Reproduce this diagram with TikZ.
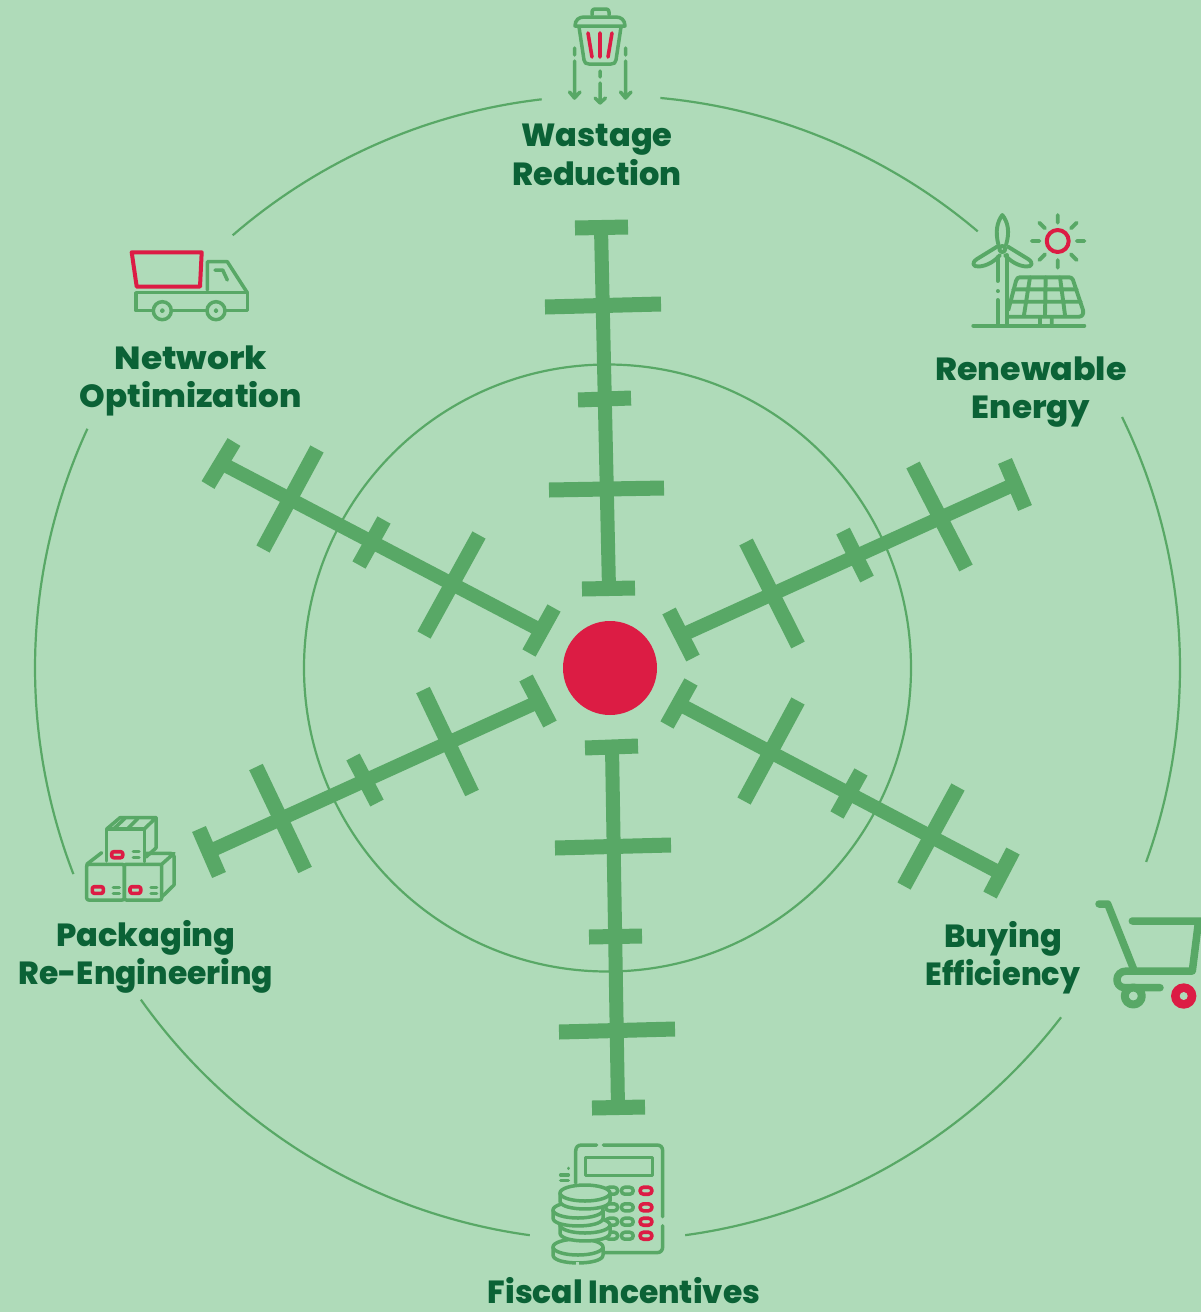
\documentclass[tikz,border=0pt]{standalone}
\usepackage{fontspec}
\setmainfont{Poppins}[BoldFont={Poppins ExtraBold}]
\definecolor{bgc}{RGB}{175,219,185}
\definecolor{gr}{RGB}{88,168,102}
\definecolor{dk}{RGB}{11,98,54}
\definecolor{rd}{RGB}{220,28,68}
\tikzset{
 spoke/.style={gr,line width=14pt},
 cross/.style={gr,line width=15pt},
 ring/.style={gr,line width=2.2pt},
 ico/.style={gr,line width=3.5pt,line cap=round,line join=round},
 icob/.style={gr,line width=3.9pt,line cap=round,line join=round},
 icor/.style={rd,line width=3.6pt,line cap=round,line join=round},
 lab/.style={text=dk,align=center,inner sep=0pt,font=\fontsize{32}{38.5}\selectfont\bfseries},
}
\newcommand\coin[2]{\begin{scope}[shift={(#1,#2)}]
 \draw[ico,fill=bgc] (-25,0) -- (-25,8) .. controls (-25,18.6) and (25,18.6) .. (25,8) -- (25,0);
 \draw[ico,fill=bgc] (0,0) ellipse [x radius=25pt,y radius=8pt];
\end{scope}}
\newcommand\btn[3]{\draw[#3,rounded corners=3.5pt] (#1-6,#2-3.5) rectangle (#1+6,#2+3.5);}
\begin{document}
\begin{tikzpicture}[x=1pt,y=-1pt]
\fill[bgc] (0,0) rectangle (1201,1312);
\useasboundingbox (0,0) rectangle (1201,1312);
% rings
\draw[ring] (607.5,668) circle [radius=303.5pt];
\foreach \a/\b in {84.7/49.7,26/-19.8,-37.6/-82.2,262.2/215.4,201.1/155.3,130.9/96.6}
 \draw[ring] plot[domain=\a:\b,samples=70,smooth] ({607.5+572.5*cos(\x)},{668-572.5*sin(\x)});
% spokes
\draw[spoke] (601,228) -- (609,589);
\draw[cross] (575,228)--(628,227) (545,307)--(661,304) (578,400)--(631,398) (549,490)--(664,488) (582,589)--(635,588);
\draw[spoke] (612,747) -- (618,1108);
\draw[cross] (585,748)--(638,746) (555,848)--(671,845) (589,937)--(642,936) (559,1032)--(675,1029) (592,1108)--(645,1107);
\draw[spoke] (680,636) -- (1015,484);
\draw[cross] (669,611)--(693,658) (746,542)--(798,645) (843,531)--(867,579) (913,465)--(966,568) (1005,461)--(1025,508);
\draw[spoke] (679,704) -- (1002,874);
\draw[cross] (691,682)--(667,725) (798,701)--(744,801) (861,772)--(837,815) (958,787)--(904,886) (1013,851)--(990,895);
\draw[spoke] (540,701) -- (208,852);
\draw[cross] (526,678)--(550,724) (423,690)--(472,793) (353,757)--(377,803) (256,767)--(305,870) (199,829)--(219,875);
\draw[spoke] (542,631) -- (221,463);
\draw[cross] (554,608)--(529,653) (479,535)--(424,635) (384,520)--(359,565) (317,449)--(263,549) (234,442)--(208,485);
\fill[rd] (610,668) circle [radius=47pt];
% wastage icon
\draw[ico] (592,15) -- (592,12) .. controls (592,10) and (593,9) .. (595,9) -- (606,9) .. controls (608,9) and (609,10) .. (609,12) -- (609,15);
\draw[ico] (575,26) .. controls (575,20) and (579,17) .. (584,17) -- (616,17) .. controls (621,17) and (625,20) .. (625,26) -- cycle;
\draw[ico] (579,27) -- (584,60) .. controls (584.5,63) and (586,64) .. (589,64) -- (611,64) .. controls (614,64) and (615.5,63) .. (616,60) -- (621,27);
\draw[icor] (588,33)--(592,57) (600,33)--(600,57) (612,33)--(608,57);
\draw[ico] (574.5,48)--(574.5,55) (574.5,61)--(574.5,98) (569.5,92)--(574.5,98)--(580,92);
\draw[ico] (625.5,48)--(625.5,55) (625.5,61)--(625.5,98) (620.5,92)--(625.5,98)--(631,92);
\draw[ico] (600,71)--(600,77) (600,83)--(600,103) (595,98)--(600,103)--(605.5,98);
% renewable icon
\draw[icor,line width=4pt] (1057.7,241) circle [radius=11pt];
\draw[icob] (1057.7,215)--(1057.7,222.7) (1057.7,260)--(1057.7,267.7) (1031.7,241)--(1039.3,241) (1076.7,241)--(1084.3,241)
 (1039.3,222.7)--(1045,228.3) (1076.7,222.7)--(1071,228.3) (1039.3,260)--(1045,254.3) (1076.7,260)--(1071,254.3);
\draw[icob] (1002.3,249) circle [radius=3pt];
\draw[icob] (998.5,245) .. controls (995,232) and (997,222) .. (1002.3,215) .. controls (1008,222) and (1010,232) .. (1006,245);
\draw[icob] (997,246.7) -- (977,259) .. controls (971,263) and (973,267) .. (979,266.5) .. controls (987,266) and (995,261) .. (1000,255);
\draw[icob] (1008,246.7) -- (1028,259) .. controls (1034,263) and (1032,267) .. (1026,266.5) .. controls (1018,266) and (1010,261) .. (1005,255);
\draw[icob] (1006.7,255)--(1006.7,325) (997.7,257)--(997.7,281) (997.7,291)--(997.7,291.1) (997.7,300)--(997.7,324);
\draw[icob] (973.3,325.7)--(1084.3,325.7);
\draw[icob] (1008.3,310) -- (1016,281) .. controls (1017,278) and (1018,277.3) .. (1020,277.3) -- (1069,277.3) .. controls (1071,277.3) and (1072,278) .. (1073,280) -- (1083,310) .. controls (1084,314) and (1082,316.7) .. (1079,316.7) -- (1007.3,316.7);
\draw[icob] (1013.3,289.3)--(1076.7,289.3) (1010,301.7)--(1080.7,301.7) (1030,277.3)--(1024,315) (1045.7,277.3)--(1045,315) (1060,277.3)--(1065,315) (1040,317)--(1040,325) (1051.7,317)--(1051.7,325);
% truck
\draw[icor,line width=4pt] (131.7,252.3)--(201.7,252.3)--(200,286.7)--(136.7,286.7)--cycle;
\draw[ico] (207.3,290)--(207.3,261.7)--(227.3,261.7)--(247.3,292.7);
\draw[ico] (215,270)--(222.7,270)--(227.3,280);
\draw[ico] (136,292.7) rectangle (247.3,310.7);
\draw[ico,fill=bgc] (162.3,310.7) circle [radius=9pt];
\draw[ico,fill=bgc] (216,310.7) circle [radius=9pt];
\draw[ico,line width=2pt] (162.3,310.7) circle [radius=1.5pt] (216,310.7) circle [radius=1.5pt];
% boxes
\draw[ico] (106.7,861)--(106.7,829)--(144.3,829)--(144.3,861.7);
\draw[ico] (106.7,829)--(120,817.7)--(156,817.7)--(144.3,829);
\draw[ico] (156,817.7)--(156,848)--(146,857);
\draw[ico] (125,818.3)--(114.3,828.3) (138,818.3)--(128,828.3);
\draw[ico,rounded corners=2pt] (86.7,864.3) rectangle (124.3,900);
\draw[ico,rounded corners=2pt] (124.3,864.3) rectangle (161.7,900);
\draw[ico] (86.7,864.3)--(101.7,852.7) (146,853.3)--(171,853.3)--(174,856)--(174,885)--(161.7,897) (161.7,864.3)--(174,853.3);
\draw[icor,rounded corners=2pt] (111.7,851.7) rectangle (122.7,857.7) (92.3,886.7) rectangle (103.3,893.3) (130,886.7) rectangle (140.7,893.3);
\draw[ico] (133.3,851.7)--(139,851.7) (133.3,857.7)--(139,857.7) (113.3,887.7)--(119.3,887.7) (113.3,893.3)--(119.3,893.3) (151,887.7)--(156.7,887.7) (151,893.3)--(156.7,893.3);
% cart
\draw[ico,line width=7.5pt] (1099,904)--(1107.7,904)--(1133.3,968.3);
\draw[ico,line width=7.5pt] (1132.3,921)--(1205,921) (1198.3,923)--(1192.3,971)--(1126.7,971) .. controls (1114,971) and (1114,987.7) .. (1125,987.7) -- (1160,987.7);
\draw[ico,line width=8pt,fill=bgc] (1133.3,996) circle [radius=8.5pt];
\fill[rd] (1183.7,996) circle [radius=12.7pt];
\fill[bgc] (1183.7,996) circle [radius=4pt];
% calculator
\draw[ico] (596.7,1145)--(581.7,1145) .. controls (578,1145) and (575.7,1147) .. (575.7,1151)--(575.7,1183);
\draw[ico] (603.3,1145)--(656.7,1145) .. controls (660.5,1145) and (662.7,1147) .. (662.7,1151)--(662.7,1216.7);
\draw[ico] (662.7,1225.7)--(662.7,1246.7) .. controls (662.7,1250.5) and (660.5,1252.7) .. (656.7,1252.7)--(603.3,1252.7);
\draw[ico] (585.7,1157.7) rectangle (652.7,1175.7);
\foreach \y in {1190.7,1207.3,1221.7,1235.7}{
 \btn{611.7}{\y}{ico}
 \btn{627.3}{\y}{ico}
 \btn{646}{\y}{icor}
}
\draw[ico] (568.3,1168.3)--(568.3,1168.4) (560.7,1175)--(568.3,1175) (560.7,1180.7)--(568.3,1180.7);
\coin{578}{1247}
\coin{585}{1225}
\coin{578}{1210}
\coin{585}{1193}
\draw[bgc,line width=4pt] (576,1264)--(579,1264);
% labels
\node[lab] (wastage) at (597,155) {Wastage\\Reduction};
\node[lab] (renewable) at (1031,392) {\scalebox{1.04}[1]{Renewable}\\\scalebox{1.02}[1]{Energy}};
\node[lab] (network) at (191,381) {\scalebox{1.08}[1]{Network}\\\scalebox{1.02}[1]{Optimization}};
\node[lab] (packaging) at (146,957) {Packaging\\\scalebox{0.98}[1]{Re-Engineering}};
\node[lab] (buying) at (1003,957.5) {Buying\\\scalebox{0.95}[1]{Efficiency}};
\node[lab] (fiscal) at (624,1291) {\scalebox{0.98}[1]{Fiscal Incentives}};
\end{tikzpicture}
\end{document}
